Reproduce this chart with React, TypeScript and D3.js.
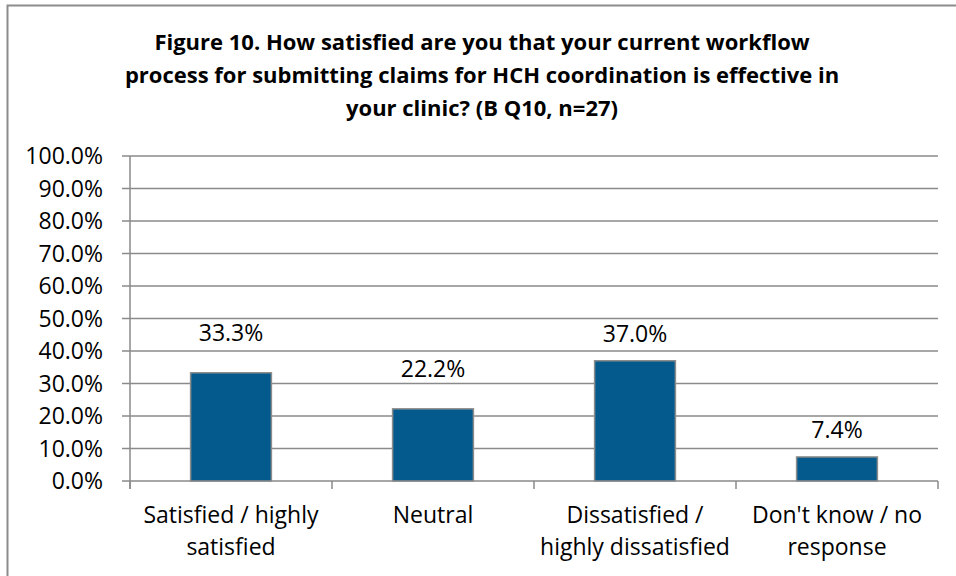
import React from "react";
import * as d3 from "d3";

const categories = [
  "Satisfied / highly satisfied",
  "Neutral",
  "Dissatisfied / highly dissatisfied",
  "Don't know / no response",
];
const categoryLines = [
  ["Satisfied / highly", "satisfied"],
  ["Neutral"],
  ["Dissatisfied /", "highly dissatisfied"],
  ["Don't know / no", "response"],
];
const values = [33.3, 22.2, 37.0, 7.4];
const yTicks = [0, 10, 20, 30, 40, 50, 60, 70, 80, 90, 100];
const titleLines = [
  "Figure 10. How satisfied are you that your current workflow",
  "process for submitting claims for HCH coordination is effective in",
  "your clinic? (B Q10, n=27)",
];

// layout constants
const W = 956;
const H = 576;
const plot = { left: 130, right: 938, top: 156, bottom: 481 };
const labelLift = [32, 32, 19, 19];
const FONT = "'Open Sans', 'Liberation Sans', sans-serif";
const GRID = "#8a8a8a";
const BAR = "#045A8D";

export default function App() {
  const x = d3
    .scaleBand<string>()
    .domain(categories)
    .range([plot.left, plot.right])
    .paddingInner(0.6)
    .paddingOuter(0.3);
  const xOuter = d3
    .scaleBand<string>()
    .domain(categories)
    .range([plot.left, plot.right])
    .padding(0);
  const y = d3.scaleLinear().domain([0, 100]).range([plot.bottom, plot.top]);

  const boundaries = categories.map((c) => xOuter(c) as number).concat([plot.right]);

  return (
    <svg
      width={W}
      height={H}
      style={{ position: "absolute", left: 0, top: 0, background: "#fff" }}
      fontFamily={FONT}
    >
      <rect x={0} y={0} width={W} height={H} fill="#fff" />
      <rect x={7.5} y={5.5} width={W + 20} height={H + 20} fill="none" stroke="#8c8c8c" strokeWidth={2} />

      {/* title */}
      {titleLines.map((t, i) => (
        <text
          key={i}
          x={482}
          y={50 + i * 33}
          textAnchor="middle"
          fontWeight="bold"
          fontSize={22}
          fill="#000"
        >
          {t}
        </text>
      ))}

      {/* gridlines */}
      {yTicks.map((t) => (
        <line
          key={"g" + t}
          x1={plot.left - 8}
          x2={plot.right}
          y1={y(t)}
          y2={y(t)}
          stroke={GRID}
          strokeWidth={1.5}
        />
      ))}
      {/* y axis line */}
      <line x1={plot.left} x2={plot.left} y1={plot.top} y2={plot.bottom + 8} stroke={GRID} strokeWidth={1.5} />
      {/* x category ticks */}
      {boundaries.map((b, i) => (
        <line key={"xt" + i} x1={b} x2={b} y1={plot.bottom} y2={plot.bottom + 8} stroke={GRID} strokeWidth={1.5} />
      ))}

      {/* y tick labels */}
      {yTicks.map((t) => (
        <text
          key={"yl" + t}
          x={103}
          y={y(t)}
          dy="0.36em"
          textAnchor="end"
          fontSize={23}
          fill="#000"
        >
          {t.toFixed(1) + "%"}
        </text>
      ))}

      {/* bars */}
      {categories.map((c, i) => (
        <rect
          key={"b" + i}
          x={x(c)}
          y={y(values[i])}
          width={x.bandwidth()}
          height={y(0) - y(values[i])}
          fill={BAR}
          stroke="#8c8c8c"
          strokeWidth={1.5}
        />
      ))}

      {/* data labels */}
      {categories.map((c, i) => (
        <text
          key={"dl" + i}
          x={(x(c) as number) + x.bandwidth() / 2}
          y={y(values[i]) - labelLift[i]}
          textAnchor="middle"
          fontSize={23}
          fill="#000"
        >
          {values[i].toFixed(1) + "%"}
        </text>
      ))}

      {/* category labels */}
      {categories.map((c, i) => (
        <text
          key={"cl" + i}
          x={(xOuter(c) as number) + xOuter.bandwidth() / 2}
          y={523}
          textAnchor="middle"
          fontSize={23}
          fill="#000"
        >
          {categoryLines[i].map((ln, j) => (
            <tspan key={j} x={(xOuter(c) as number) + xOuter.bandwidth() / 2} dy={j === 0 ? 0 : 32}>
              {ln}
            </tspan>
          ))}
        </text>
      ))}
    </svg>
  );
}
